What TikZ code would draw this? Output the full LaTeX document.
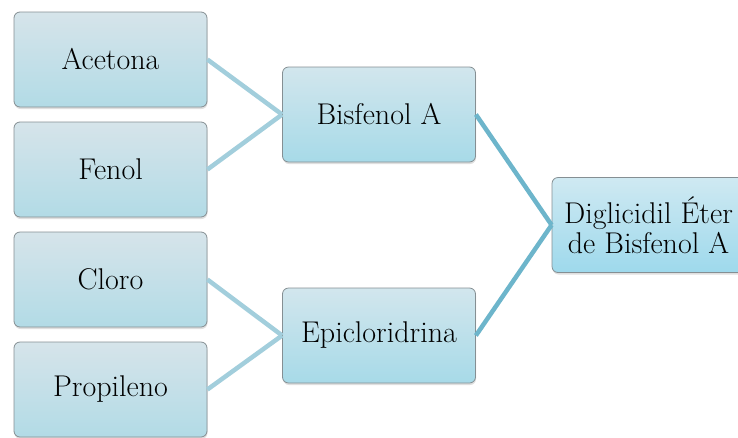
\documentclass[tikz,border=0pt]{standalone}
\usetikzlibrary{shadows}
\definecolor{boxtop}{HTML}{D6E4EA}
\definecolor{boxbot}{HTML}{B2DBE6}
\definecolor{midtop}{HTML}{D2E6ED}
\definecolor{midbot}{HTML}{A7DAE8}
\definecolor{endtop}{HTML}{CFE9F2}
\definecolor{endbot}{HTML}{9ED9EC}
\definecolor{boxline}{HTML}{858F93}
\definecolor{linklight}{HTML}{A2CEDC}
\definecolor{linkdark}{HTML}{6DB5CB}

\begin{document}
\begin{tikzpicture}[x=1pt, y=-1pt,
    box/.style={rectangle, draw=boxline, line width=0.8pt, rounded corners=6pt, minimum width=193pt, minimum height=95pt, align=center, top color=boxtop, bottom color=boxbot, drop shadow={opacity=0.25, shadow xshift=0.5pt, shadow yshift=-2pt}, font=\fontsize{30}{30}\selectfont},
    midbox/.style={box, top color=midtop, bottom color=midbot},
    endbox/.style={box, top color=endtop, bottom color=endbot},
    link/.style={line width=4.5pt, linklight},
    darklink/.style={line width=4.5pt, linkdark}
]
\useasboundingbox (0,0) rectangle (738,437);

\node[box] (acetona) at (110.5,59.5) {Acetona};
\node[box] (fenol) at (110.5,169.5) {Fenol};
\node[box] (cloro) at (110.5,279.5) {Cloro};
\node[box] (propileno) at (110.5,389.5) {Propileno};
\node[midbox] (bisfenol) at (379,114.5) {Bisfenol A};
\node[midbox] (epiclor) at (379,335.5) {Epicloridrina};
\node[endbox] (diglicidil) at (648.5,225) {Diglicidil Éter\\de Bisfenol A};

\draw[link] (acetona.east) -- (bisfenol.west);
\draw[link] (fenol.east) -- (bisfenol.west);
\draw[link] (cloro.east) -- (epiclor.west);
\draw[link] (propileno.east) -- (epiclor.west);
\draw[darklink] (bisfenol.east) -- (diglicidil.west);
\draw[darklink] (epiclor.east) -- (diglicidil.west);
\end{tikzpicture}
\end{document}
